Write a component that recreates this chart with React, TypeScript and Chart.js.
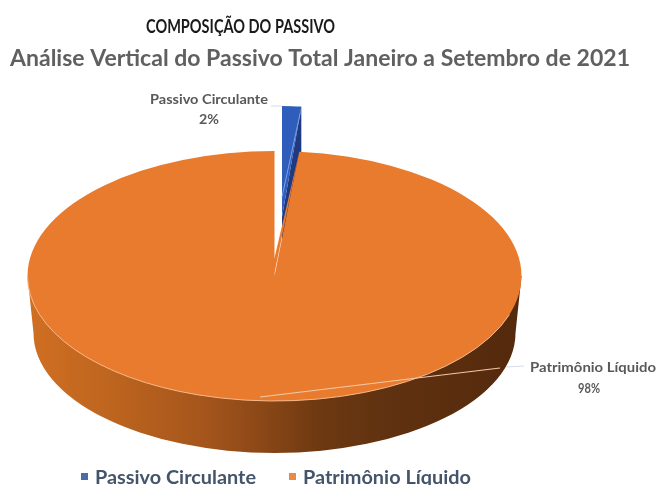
import React, { useEffect, useRef } from "react";
import { Chart, registerables } from "chart.js";

Chart.register(...registerables);

const categories = ["Passivo Circulante", "Patrimônio Líquido"];
const shareValues = [1.6, 98.4];
const sliceColors = ["#2f5dbb", "#e97b2f"];
const legendColors = ["#4a6ca8", "#ea8a48"];
const chartTitle = "COMPOSIÇÃO DO PASSIVO";
const chartSubtitle = "Análise Vertical do Passivo Total Janeiro a Setembro de 2021";

const FONT = "Lato, 'Open Sans', sans-serif";
const TILT = 125 / 247;
const DEPTH = 54;

function fitText(ctx: CanvasRenderingContext2D, text: string, left: number, right: number, y: number, font: string, color: string) {
  ctx.save();
  ctx.font = font;
  ctx.fillStyle = color;
  ctx.textAlign = "left";
  ctx.textBaseline = "alphabetic";
  const w = ctx.measureText(text).width;
  ctx.translate(left, y);
  ctx.scale((right - left) / w, 1);
  ctx.fillText(text, 0, 0);
  ctx.restore();
}

const piePlugin = {
  id: "tiltedPie",
  beforeDatasetsDraw(chart: any) {
    const ctx: CanvasRenderingContext2D = chart.ctx;
    const [blue, orange] = chart.getDatasetMeta(0).data as any[];
    const cx = orange.x;
    const cy = orange.y;
    const r = orange.outerRadius;
    const ry = r * TILT;

    // exploded small slice
    const apexX = 282;
    const apexY = 217;
    const sx = 0.78;
    const sy = 111 / r;
    const endX = apexX + Math.cos(blue.endAngle) * r * sx;
    const endY = apexY + Math.sin(blue.endAngle) * r * sy;
    ctx.save();
    ctx.fillStyle = "#1f3a80";
    ctx.beginPath();
    ctx.moveTo(apexX, apexY);
    ctx.lineTo(endX, endY);
    ctx.lineTo(endX, endY + DEPTH);
    ctx.lineTo(apexX, apexY + DEPTH);
    ctx.closePath();
    ctx.fill();
    ctx.restore();

    ctx.save();
    ctx.translate(apexX, apexY);
    ctx.scale(sx, sy);
    ctx.translate(-cx, -cy);
    blue.draw(ctx);
    ctx.restore();

    ctx.save();
    ctx.strokeStyle = "#7f9fe6";
    ctx.lineWidth = 1;
    ctx.beginPath();
    ctx.moveTo(apexX, apexY - 20);
    ctx.lineTo(endX - 1, endY + 6);
    ctx.stroke();
    ctx.restore();

    // side wall
    const botRx = r - 6;
    const botRy = 120;
    const botY = cy + 57;
    const g = ctx.createLinearGradient(cx - r, 0, cx + r, 0);
    g.addColorStop(0, "#d06f22");
    g.addColorStop(0.15, "#c0661f");
    g.addColorStop(0.35, "#a6561c");
    g.addColorStop(0.47, "#8c4817");
    g.addColorStop(0.6, "#6b3811");
    g.addColorStop(0.75, "#5f3110");
    g.addColorStop(1, "#54290c");
    ctx.save();
    ctx.fillStyle = g;
    ctx.beginPath();
    ctx.moveTo(cx + r, cy);
    ctx.lineTo(cx + botRx, botY);
    ctx.ellipse(cx, botY, botRx, botRy, 0, 0, Math.PI);
    ctx.lineTo(cx - r, cy);
    ctx.closePath();
    ctx.fill();
    ctx.restore();

    // top face
    ctx.save();
    ctx.translate(cx, cy);
    ctx.scale(1, TILT);
    ctx.translate(-cx, -cy);
    orange.draw(ctx);
    ctx.restore();

    // slice apex sits above the ellipse centre
    const gapEndX = cx + Math.cos(orange.startAngle) * r;
    const gapEndY = cy + Math.sin(orange.startAngle) * ry;
    ctx.save();
    ctx.fillStyle = sliceColors[1];
    ctx.beginPath();
    ctx.moveTo(cx - 1, cy + 2);
    ctx.lineTo(gapEndX, gapEndY);
    ctx.lineTo(cx, 258);
    ctx.lineTo(cx - 1, 258);
    ctx.closePath();
    ctx.fill();
    ctx.restore();

    // rim highlight
    ctx.save();
    ctx.strokeStyle = "#f7b98c";
    ctx.lineWidth = 1;
    ctx.beginPath();
    ctx.ellipse(cx, cy, r, ry, 0, Math.PI * 0.1, Math.PI);
    ctx.stroke();

    // leader lines
    ctx.strokeStyle = "#f2c9a8";
    ctx.lineWidth = 1.2;
    ctx.beginPath();
    ctx.moveTo(260, 397);
    ctx.lineTo(500, 368);
    ctx.stroke();
    ctx.strokeStyle = "#d5dde8";
    ctx.lineWidth = 1;
    ctx.beginPath();
    ctx.moveTo(506, 367);
    ctx.lineTo(524, 366);
    ctx.moveTo(271, 106);
    ctx.lineTo(282, 106);
    ctx.stroke();
    ctx.restore();
    return false;
  },
  afterDraw(chart: any) {
    const ctx: CanvasRenderingContext2D = chart.ctx;
    const total = shareValues.reduce((a, b) => a + b, 0);
    const pct = shareValues.map((v) => `${Math.round((v / total) * 100)}%`);

    fitText(ctx, chartTitle, 146, 335, 33, `bold 18px ${FONT}`, "#1a1a1a");
    fitText(ctx, chartSubtitle, 10, 630, 66, `bold 23px ${FONT}`, "#606060");

    const labelColor = "#595959";
    fitText(ctx, categories[0], 150, 268, 104, `bold 13px ${FONT}`, labelColor);
    fitText(ctx, pct[0], 199, 219, 124, `bold 13px ${FONT}`, labelColor);
    fitText(ctx, categories[1], 530, 656, 372, `bold 13px ${FONT}`, labelColor);
    fitText(ctx, pct[1], 578, 600, 393, `bold 13px ${FONT}`, labelColor);

    ctx.fillStyle = legendColors[0];
    ctx.fillRect(81, 473, 7, 7);
    ctx.fillStyle = legendColors[1];
    ctx.fillRect(289, 473, 7, 7);
    fitText(ctx, categories[0], 95, 256, 484, `bold 19px ${FONT}`, "#44546a");
    fitText(ctx, categories[1], 303, 471, 484, `bold 19px ${FONT}`, "#44546a");
  },
};

export default function App() {
  const ref = useRef<HTMLCanvasElement>(null);
  useEffect(() => {
    const chart = new Chart(ref.current as HTMLCanvasElement, {
      type: "pie",
      data: {
        labels: categories,
        datasets: [{ data: shareValues, backgroundColor: sliceColors, borderWidth: 0 }],
      },
      options: {
        animation: false,
        responsive: false,
        devicePixelRatio: 1,
        radius: 247,
        rotation: 0,
        layout: { padding: { left: 0, right: 109, top: 67, bottom: 0 } },
        events: [],
        plugins: { legend: { display: false }, title: { display: false }, tooltip: { enabled: false } },
      } as any,
      plugins: [piePlugin as any],
    });
    return () => chart.destroy();
  }, []);
  return (
    <div style={{ position: "fixed", left: 0, top: 0, width: 658, height: 485, background: "#fff", overflow: "hidden" }}>
      <canvas ref={ref} width={658} height={485} style={{ display: "block", filter: "blur(0.6px)" }} />
    </div>
  );
}
